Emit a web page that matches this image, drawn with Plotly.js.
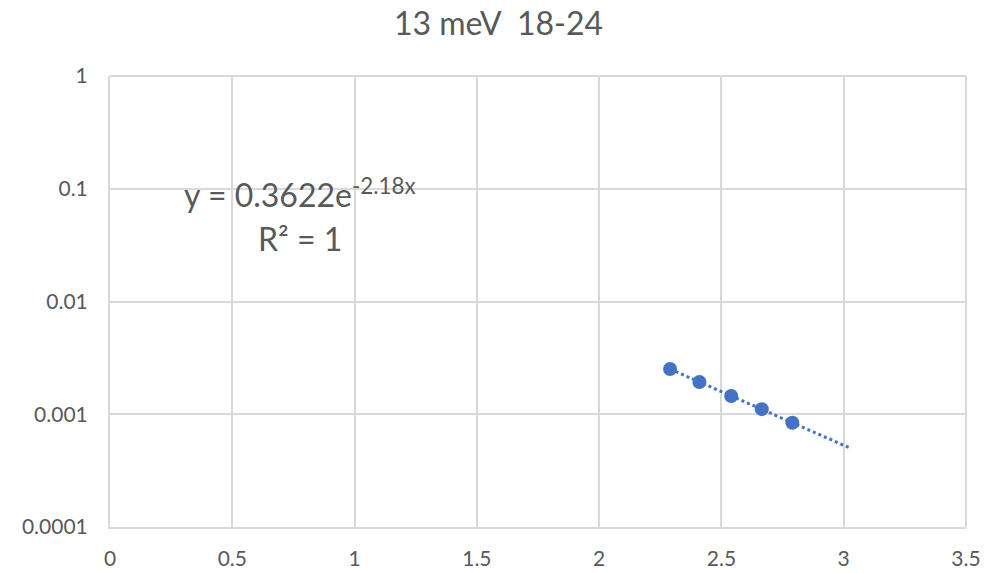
<!DOCTYPE html>
<html>
<head>
<meta charset="utf-8">
<script src="https://cdn.plot.ly/plotly-3.0.1.min.js"></script>
<style>html,body{margin:0;padding:0;background:#fff;}#chart{width:997px;height:573px;}</style>
</head>
<body>
<div id="chart"></div>
<script>
const xValues = [2.29, 2.41, 2.54, 2.665, 2.79];
const yValues = [0.00252, 0.00193, 0.00145, 0.00111, 0.00084];
const trendEndX = 3.02;
const titleText = "13 meV  18-24";
const equationText = "y = 0.3622e<sup>-2.18x</sup>";
const r2Text = "R² = 1";
const yTickVals = [0.0001, 0.001, 0.01, 0.1, 1];
const yTickText = ["0.0001", "0.001", "0.01", "0.1", "1"];
const xTickVals = [0, 0.5, 1, 1.5, 2, 2.5, 3, 3.5];
const xTickText = ["0", "0.5", "1", "1.5", "2", "2.5", "3", "3.5"];

// exponential least-squares fit (log-linear) from the data
const n = xValues.length;
const ly = yValues.map(Math.log);
const mx = xValues.reduce((a,b)=>a+b,0)/n;
const my = ly.reduce((a,b)=>a+b,0)/n;
let sxy=0, sxx=0;
for (let i=0;i<n;i++){ sxy += (xValues[i]-mx)*(ly[i]-my); sxx += (xValues[i]-mx)**2; }
const b = sxy/sxx, a = Math.exp(my - b*mx);
const tx = [], ty = [];
const x0 = Math.min(...xValues);
for (let i=0;i<=40;i++){ const x = x0 + (trendEndX-x0)*i/40; tx.push(x); ty.push(a*Math.exp(b*x)); }

const color = "#4472C4";
const font = "Lato, 'Open Sans', sans-serif";
const grid = "#d9d9d9";
const data = [
  {x: tx, y: ty, mode: "lines", line: {color: color, width: 3, dash: "dot"}, hoverinfo: "skip", showlegend: false},
  {x: xValues, y: yValues, mode: "markers", marker: {color: color, size: 14}, showlegend: false}
];
const layout = {
  width: 997, height: 573,
  margin: {l: 110, r: 31, t: 76, b: 46},
  paper_bgcolor: "#fff", plot_bgcolor: "#fff",
  font: {family: font, color: "#595959", size: 21},
  title: {text: titleText, font: {family: font, size: 32, color: "#595959"}, x: 0.5, xanchor: "center", y: 0.958, yanchor: "middle"},
  xaxis: {range: [0, 3.5], tickvals: xTickVals, ticktext: xTickText, showgrid: true, gridcolor: grid, gridwidth: 2,
          zeroline: false, showline: true, linecolor: grid, linewidth: 2, ticks: "", ticklabelstandoff: 12,
          tickfont: {size: 21, color: "#595959"}},
  yaxis: {type: "log", range: [-4, 0], tickvals: yTickVals, ticktext: yTickText, showgrid: true, gridcolor: grid, gridwidth: 2,
          zeroline: false, showline: true, linecolor: grid, linewidth: 2, ticks: "", ticklabelstandoff: 16,
          tickfont: {size: 21, color: "#595959"}},
  shapes: [{type: "line", xref: "paper", yref: "paper", x0: 1, x1: 1, y0: 0, y1: 1, line: {color: grid, width: 2}},
           {type: "line", xref: "paper", yref: "paper", x0: 0, x1: 1, y0: 1, y1: 1, line: {color: grid, width: 2}}],
  annotations: [
    {x: 0.777, y: -1, xref: "x", yref: "y", text: equationText, showarrow: false, xanchor: "center", yanchor: "middle",
     yshift: -4, font: {family: font, size: 32, color: "#595959"}},
    {x: 0.777, y: -1, xref: "x", yref: "y", text: r2Text, showarrow: false, xanchor: "center", yanchor: "middle",
     yshift: -50, font: {family: font, size: 32, color: "#595959"}}
  ]
};
Plotly.newPlot("chart", data, layout, {displayModeBar: false, staticPlot: true});
</script>
</body>
</html>
